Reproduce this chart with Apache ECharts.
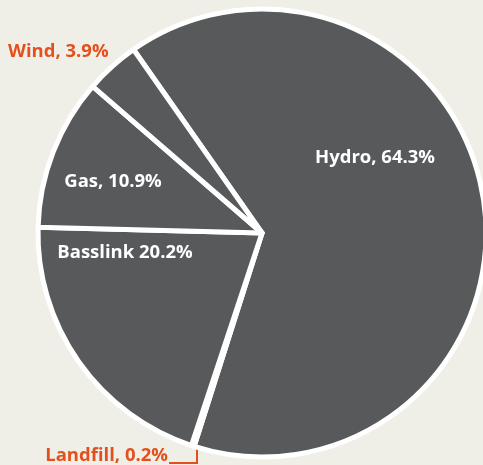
<!DOCTYPE html>
<html>
<head>
<meta charset="utf-8">
<script src="https://cdn.jsdelivr.net/npm/echarts@6/dist/echarts.min.js"></script>
<style>
html,body{margin:0;padding:0;background:#efefe8;}
#chart{width:483px;height:465px;}
</style>
</head>
<body>
<div id="chart"></div>
<script>
var categories = ['Hydro', 'Landfill', 'Basslink', 'Gas', 'Wind'];
var values = [64.3, 0.2, 20.2, 10.9, 3.9];
var labelTexts = ['Hydro, 64.3%', 'Landfill, 0.2%', 'Basslink 20.2%', 'Gas, 10.9%', 'Wind, 3.9%'];

var ORANGE = '#e4501d';
var SLICE = '#58595b';
var outside = { 'Landfill': true, 'Wind': true };

var chart = echarts.init(document.getElementById('chart'), null, { renderer: 'canvas' });

var data = categories.map(function (c, i) {
  var isOut = !!outside[c];
  return {
    name: c,
    value: values[i],
    label: {
      show: true,
      position: isOut ? 'outside' : 'inside',
      formatter: labelTexts[i],
      color: isOut ? ORANGE : '#ffffff'
    },
    labelLine: {
      show: c === 'Landfill',
      lineStyle: { color: ORANGE, width: 2 }
    }
  };
});

var labelPlace = {
  'Hydro':    { x: 375, y: 158, align: 'center' },
  'Landfill': { x: 168, y: 456, align: 'right', line: [[197, 447], [197, 463], [169, 463]] },
  'Basslink': { x: 125, y: 253, align: 'center' },
  'Gas':      { x: 113, y: 182, align: 'center' },
  'Wind':     { x: 8,   y: 52,  align: 'left' }
};

chart.setOption({
  backgroundColor: '#efefe8',
  animation: false,
  series: [{
    type: 'pie',
    center: [262, 233],
    radius: [0, 224],
    startAngle: 125,
    clockwise: true,
    avoidLabelOverlap: false,
    itemStyle: { color: SLICE, borderColor: '#ffffff', borderWidth: 5 },
    label: {
      fontFamily: 'Open Sans',
      fontWeight: 'bold',
      fontSize: 18.5,
      verticalAlign: 'middle'
    },
    labelLine: { length: 10, length2: 10 },
    emphasis: { disabled: true },
    labelLayout: function (params) {
      var p = labelPlace[categories[params.dataIndex]];
      var out = { x: p.x, y: p.y, align: p.align, verticalAlign: 'middle' };
      if (p.line) out.labelLinePoints = p.line;
      return out;
    },
    data: data
  }]
});
</script>
</body>
</html>
